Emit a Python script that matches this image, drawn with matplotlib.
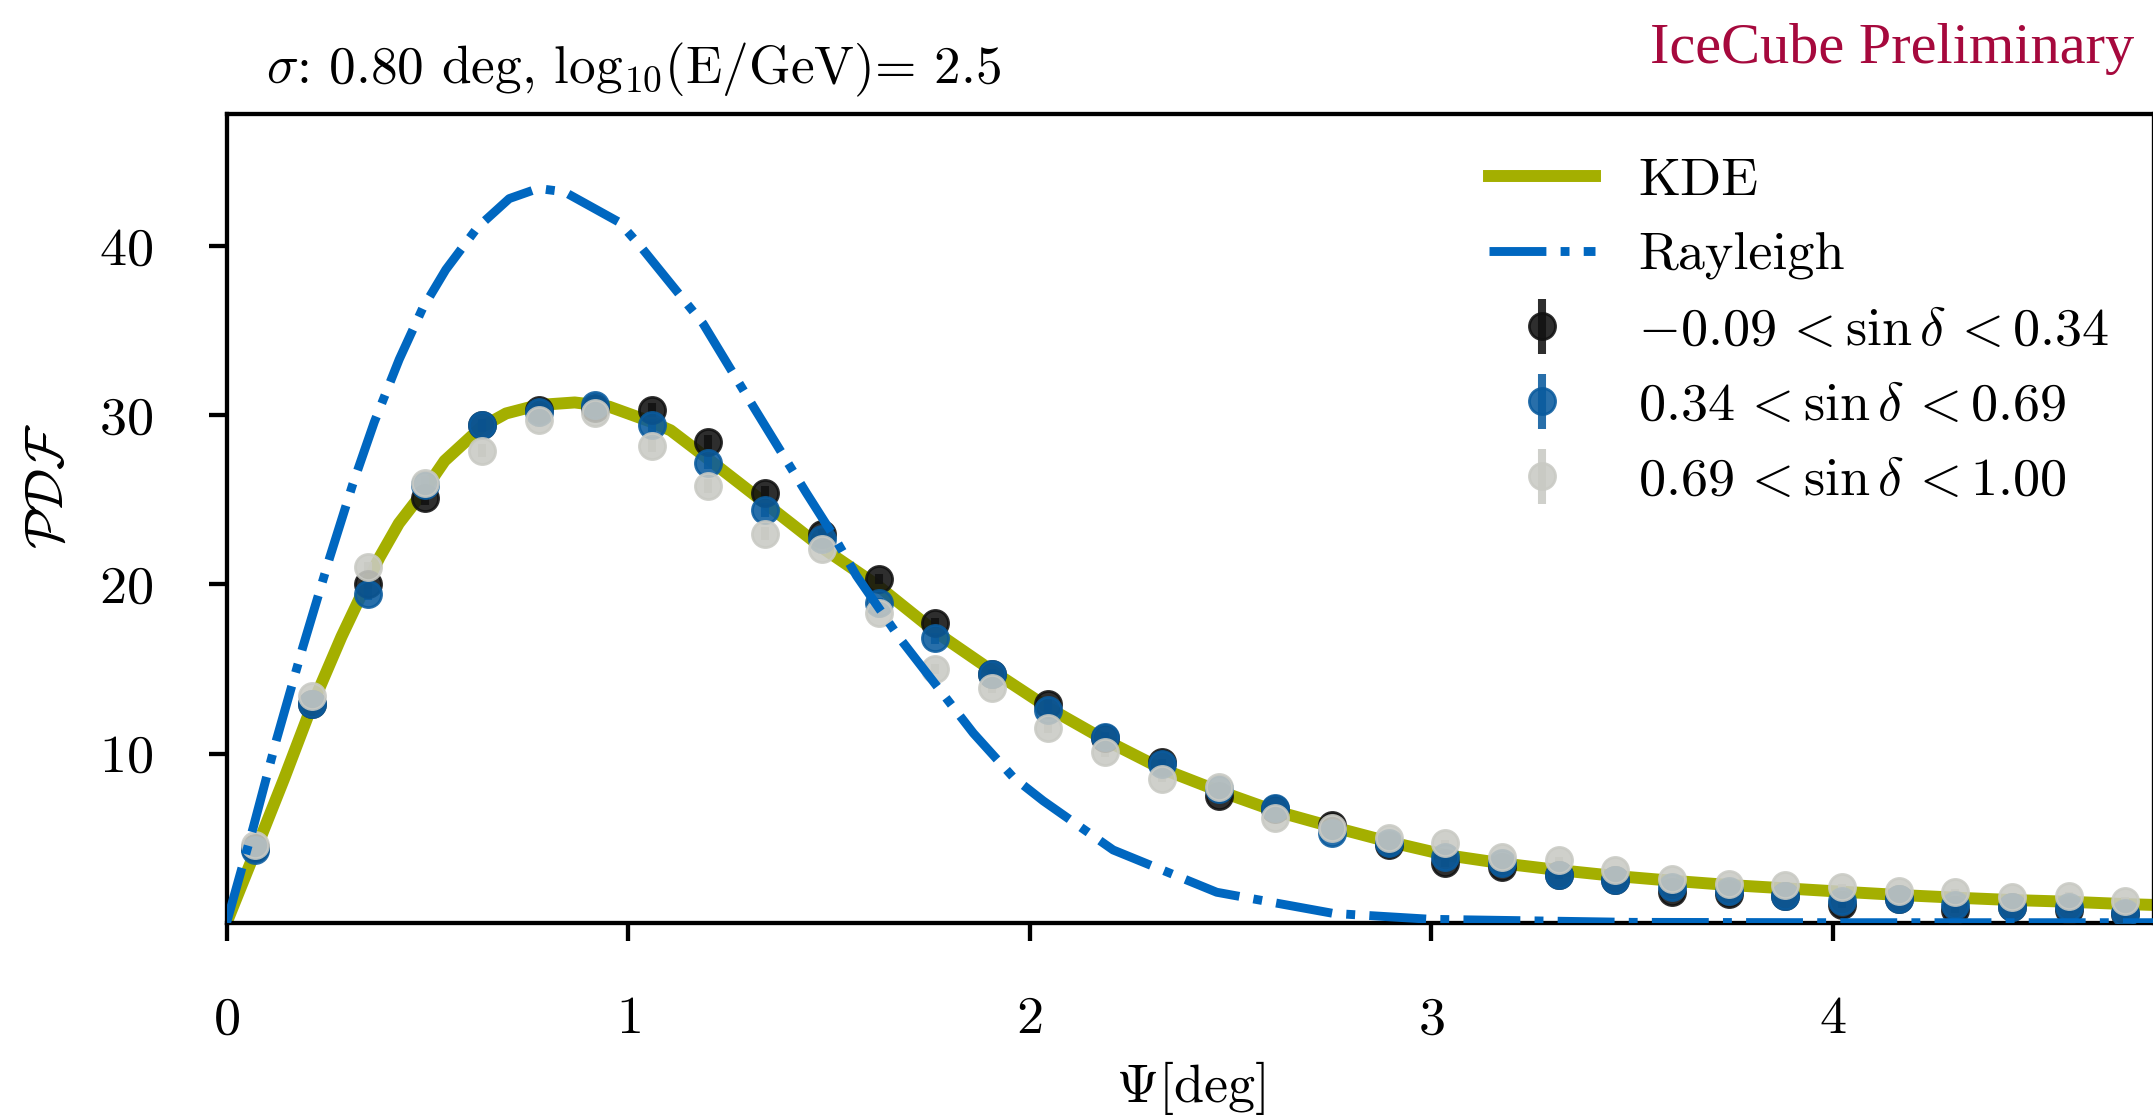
import matplotlib
matplotlib.use("Agg")
import matplotlib.pyplot as plt
import numpy as np

plt.rcParams['font.family'] = 'serif'
plt.rcParams['font.serif'] = ['cmr10']
plt.rcParams['mathtext.fontset'] = 'cm'
plt.rcParams['axes.formatter.use_mathtext'] = True
plt.rcParams['axes.unicode_minus'] = False

# ---------------- data ----------------
bin_centers = [0.071, 0.212, 0.353, 0.494, 0.635, 0.777, 0.918, 1.059, 1.200, 1.341,
               1.482, 1.624, 1.765, 1.906, 2.047, 2.188, 2.329, 2.471, 2.612, 2.753,
               2.894, 3.035, 3.177, 3.318, 3.459, 3.600, 3.741, 3.882, 4.024, 4.165,
               4.306, 4.447, 4.588, 4.729]

pdf_low = [4.4, 12.9, 20.0, 25.1, 29.4, 30.3, 30.4, 30.3, 28.4, 25.4,
           23.0, 20.3, 17.7, 14.7, 12.9, 10.9, 9.5, 7.5, 6.7, 5.8,
           4.6, 3.5, 3.3, 2.8, 2.5, 1.8, 1.7, 1.6, 1.05, 1.4,
           0.75, 0.9, 0.75, 0.5]
pdf_mid = [4.3, 12.9, 19.4, 25.9, 29.4, 30.2, 30.6, 29.4, 27.2, 24.4,
           22.7, 18.9, 16.8, 14.7, 12.6, 11.0, 9.4, 7.9, 6.8, 5.3,
           4.7, 3.9, 3.5, 2.8, 2.5, 2.1, 1.9, 1.6, 1.3, 1.4,
           1.05, 0.95, 0.95, 0.55]
pdf_high = [4.6, 13.4, 21.0, 26.0, 27.9, 29.7, 30.1, 28.2, 25.8, 23.0,
            22.1, 18.3, 15.0, 13.9, 11.5, 10.1, 8.5, 8.05, 6.2, 5.6,
            5.0, 4.7, 3.9, 3.7, 3.1, 2.6, 2.3, 2.2, 2.1, 1.9,
            1.8, 1.5, 1.6, 1.3]
err_low = [0.2, 0.3, 0.3, 0.4, 0.4, 0.4, 0.4, 0.4, 0.4, 0.4,
           0.3, 0.3, 0.3, 0.3, 0.3, 0.3, 0.2, 0.2, 0.2, 0.2,
           0.2, 0.2, 0.2, 0.2, 0.2, 0.2, 0.2, 0.2, 0.2, 0.2,
           0.2, 0.2, 0.2, 0.2]
err_mid = [0.2, 0.3, 0.3, 0.4, 0.4, 0.4, 0.4, 0.4, 0.4, 0.4,
           0.3, 0.3, 0.3, 0.3, 0.3, 0.3, 0.2, 0.2, 0.2, 0.2,
           0.2, 0.2, 0.2, 0.2, 0.2, 0.2, 0.2, 0.2, 0.2, 0.2,
           0.2, 0.2, 0.2, 0.2]
err_high = [0.2, 0.3, 0.3, 0.4, 0.4, 0.4, 0.4, 0.4, 0.4, 0.4,
            0.3, 0.3, 0.3, 0.3, 0.3, 0.3, 0.2, 0.2, 0.2, 0.2,
            0.2, 0.2, 0.2, 0.2, 0.2, 0.2, 0.2, 0.2, 0.2, 0.2,
            0.2, 0.2, 0.2, 0.2]

kde_x = [0.0, 0.071, 0.143, 0.212, 0.286, 0.352, 0.381, 0.429, 0.494, 0.543,
         0.635, 0.696, 0.777, 0.867, 0.953, 1.058, 1.106, 1.200, 1.341, 1.481,
         1.623, 1.765, 1.906, 2.047, 2.188, 2.329, 2.470, 2.612, 2.753, 2.894,
         3.037, 3.177, 3.318, 3.460, 3.600, 3.741, 3.883, 4.024, 4.165, 4.306,
         4.447, 4.588, 4.729, 4.800]
kde_y = [0.0, 4.2, 8.5, 12.8, 16.9, 20.2, 21.6, 23.6, 25.6, 27.3,
         29.3, 30.1, 30.6, 30.75, 30.5, 29.6, 29.1, 27.4, 24.8, 22.2,
         19.9, 17.2, 14.9, 12.7, 10.8, 9.1, 7.8, 6.6, 5.67, 4.79,
         4.0, 3.51, 3.11, 2.76, 2.48, 2.23, 2.03, 1.83, 1.64, 1.48,
         1.34, 1.24, 1.10, 1.05]

ray_x = [0.0, 0.066, 0.124, 0.19, 0.257, 0.314, 0.368, 0.43, 0.488, 0.546,
         0.625, 0.704, 0.776, 0.841, 0.978, 1.03, 1.187, 1.312, 1.444, 1.511,
         1.569, 1.677, 1.86, 1.959, 2.034, 2.208, 2.466, 2.756, 3.0, 3.5,
         4.0, 4.8]
ray_y = [0.0, 5.6, 10.8, 16.3, 21.6, 25.9, 29.6, 33.3, 36.3, 38.6,
         41.1, 42.8, 43.4, 43.2, 41.4, 40.0, 35.4, 30.5, 25.4, 22.9,
         20.5, 16.8, 11.2, 8.6, 7.2, 4.3, 1.8, 0.55, 0.2, 0.02,
         0.0, 0.0]

labels = [r'$-0.09 \,< \sin\delta \,< 0.34$',
          r'$0.34 \,< \sin\delta \,< 0.69$',
          r'$0.69 \,< \sin\delta \,< 1.00$']
title_text = r'$\sigma$: 0.80 deg, log$_{10}$(E/GeV)= 2.5'

# ---------------- figure ----------------
W, H, DPI = 2153, 1115, 200
fig = plt.figure(figsize=(W / DPI, H / DPI), dpi=DPI)
ax_l, ax_r, ax_t, ax_b = 226.6, 2153.8, 114.0, 922.7
ax = fig.add_axes([ax_l / W, 1 - ax_b / H, (ax_r - ax_l) / W, (ax_b - ax_t) / H])

c_kde = '#a4af00'
c_ray = '#0067c0'
c_low = '#111111'
c_mid = '#0a5b9e'
c_high = '#c9cac4'

ax.plot(kde_x, kde_y, color=c_kde, lw=4.3, label='KDE', zorder=2)
for yv, ev, col, lab in [(pdf_low, err_low, c_low, labels[0]),
                         (pdf_mid, err_mid, c_mid, labels[1]),
                         (pdf_high, err_high, c_high, labels[2])]:
    ax.errorbar(bin_centers, yv, yerr=ev, fmt='o', color=col, ms=9.4,
                elinewidth=2.9, capsize=0, alpha=0.88, label=lab, zorder=3)
ax.plot(ray_x, ray_y, color=c_ray, lw=3.2, ls='-.', label='Rayleigh', zorder=4)

ax.set_xlim(0, 4.8)
ax.set_ylim(0, 47.8)
ax.set_xticks([0, 1, 2, 3, 4])
ax.set_yticks([10, 20, 30, 40])
ax.tick_params(axis='both', direction='out', length=6.5, width=1.55,
               pad=20, labelsize=19.5)
for sp in ax.spines.values():
    sp.set_linewidth(1.55)

ax.set_xlabel(r'$\Psi[\mathrm{deg}]$', fontsize=19.5, va='top')
ax.xaxis.set_label_coords(0.5, -0.168)
ax.set_ylabel(r'$\mathcal{PDF}$', fontsize=19.5)
ax.yaxis.set_label_coords(-0.080, 0.54)

handles, labs = ax.get_legend_handles_labels()
order = ['KDE', 'Rayleigh'] + labels
hmap = dict(zip(labs, handles))
ax.legend([hmap[k] for k in order], order, loc='upper left',
          bbox_to_anchor=(1489 / W, 1 - 157 / H), bbox_transform=fig.transFigure,
          frameon=False, fontsize=19.5, borderpad=0, borderaxespad=0,
          handlelength=1.95, handletextpad=0.8, labelspacing=0.5)

fig.text(266 / W, 1 - 83 / H, title_text, fontsize=19.2, ha='left', va='baseline')
fig.text(2134 / W, 1 - 63 / H, 'IceCube Preliminary', fontsize=21,
         family='Liberation Serif', color='#a6093d', ha='right', va='baseline')

fig.savefig('out.png', dpi=DPI)
